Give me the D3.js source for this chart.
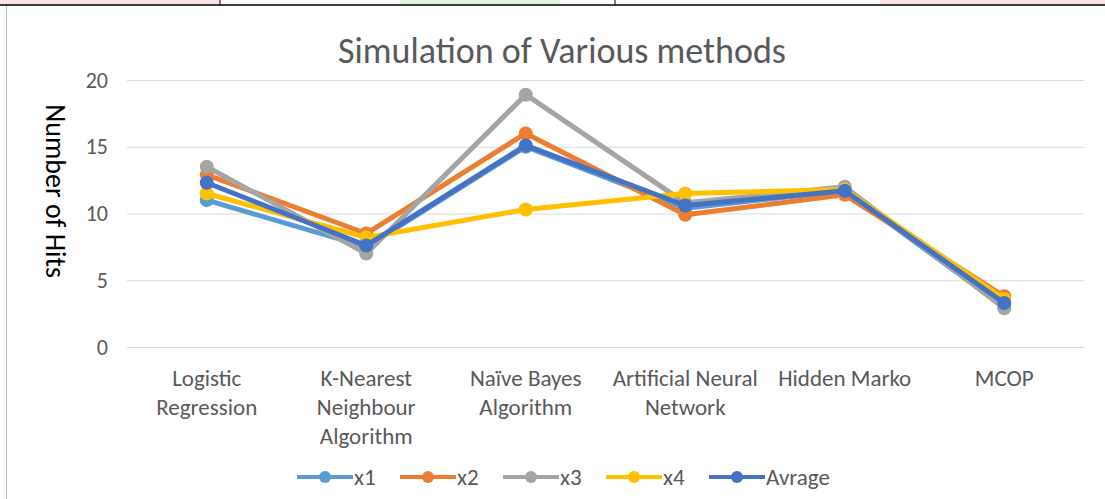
<!DOCTYPE html>
<head>
  <meta charset="utf-8">
  <title>Simulation of Various methods</title>
  <script src="https://cdn.jsdelivr.net/npm/d3@7"></script>
  <style>
    body { margin: 0; background: #fff; }
    svg text { font-family: Calibri, Carlito, "Open Sans", "Liberation Sans", sans-serif; }
  </style>
</head>
<body>
<svg width="1105" height="499"></svg>
<script>
var categories = [
  ["Logistic", "Regression"],
  ["K-Nearest", "Neighbour", "Algorithm"],
  ["Naïve Bayes", "Algorithm"],
  ["Artificial Neural", "Network"],
  ["Hidden Marko"],
  ["MCOP"]
]
var seriesNames = ["x1", "x2", "x3", "x4", "Avrage"]
var x1 = [11.0, 7.5, 15.0, 10.4, 11.7, 3.0]
var x2 = [12.9, 8.5, 16.0, 9.9, 11.4, 3.8]
var x3 = [13.5, 7.0, 18.9, 10.8, 12.0, 2.9]
var x4 = [11.5, 8.2, 10.3, 11.5, 11.8, 3.6]
var avrage = [12.3, 7.6, 15.1, 10.6, 11.7, 3.3]
var colors = ["#5b9bd5", "#ed7d31", "#a5a5a5", "#ffc000", "#4472c4"]
var yTicks = [0, 5, 10, 15, 20]

var series = [x1, x2, x3, x4, avrage]

var svg = d3.select('svg')

// bits of the page above the chart
svg.append('rect').attr('x', 0).attr('y', 0).attr('width', 220).attr('height', 5).attr('fill', '#fbe3e3')
svg.append('rect').attr('x', 400).attr('y', 0).attr('width', 160).attr('height', 5).attr('fill', '#e6f2e0')
svg.append('rect').attr('x', 880).attr('y', 0).attr('width', 225).attr('height', 5).attr('fill', '#fbe3e3')
svg.append('line').attr('x1', 0).attr('x2', 1105).attr('y1', 5).attr('y2', 5).attr('stroke', '#000').attr('stroke-width', 1.5)
;[220, 615].forEach(function (vx) {
  svg.append('line').attr('x1', vx).attr('x2', vx).attr('y1', 0).attr('y2', 5).attr('stroke', '#000')
})
svg.append('line').attr('x1', 6.5).attr('x2', 6.5).attr('y1', 6).attr('y2', 499).attr('stroke', '#bfbfbf')

var x = d3.scaleBand().domain(d3.range(categories.length)).range([127, 1084])
var y = d3.scaleLinear().domain([0, 20]).range([347, 80])

// gridlines
svg.append('g').selectAll('line').data(yTicks).enter().append('line')
  .attr('x1', 127).attr('x2', 1084)
  .attr('y1', function (d) { return y(d) + .5 })
  .attr('y2', function (d) { return y(d) + .5 })
  .attr('stroke', '#d9d9d9').attr('stroke-width', 1)

var yAxis = svg.append('g').attr('transform', 'translate(108,0)')
  .call(d3.axisLeft(y).tickValues(yTicks).tickSize(0).tickPadding(0))
yAxis.select('.domain').remove()
yAxis.selectAll('text').attr('fill', '#595959').style('font-size', '22px')
  .style('font-family', 'Calibri, Carlito, "Open Sans", sans-serif')

// category labels
var cat = svg.append('g').selectAll('text').data(categories).enter().append('text')
  .attr('text-anchor', 'middle')
  .attr('fill', '#595959')
  .style('font-size', '23px')
cat.selectAll('tspan').data(function (d, i) { return d.map(function (t) { return { t: t, i: i } }) })
  .enter().append('tspan')
  .attr('x', function (d) { return x(d.i) + x.bandwidth() / 2 })
  .attr('y', function (d, j) { return 386 + j * 29 })
  .text(function (d) { return d.t })

// title
svg.append('text').attr('x', 562).attr('y', 63).attr('text-anchor', 'middle')
  .attr('fill', '#595959').style('font-size', '36px')
  .text('Simulation of Various methods')

svg.append('text')
  .attr('transform', 'translate(46,191) rotate(90)')
  .attr('text-anchor', 'middle')
  .attr('fill', '#000').style('font-size', '28px')
  .text('Number of Hits')

var line = d3.line()
  .x(function (d, i) { return x(i) + x.bandwidth() / 2 })
  .y(function (d) { return y(d) })

series.forEach(function (s, k) {
  var g = svg.append('g')
  g.append('path').datum(s).attr('d', line)
    .attr('fill', 'none').attr('stroke', colors[k]).attr('stroke-width', 5)
    .attr('stroke-linejoin', 'round').attr('stroke-linecap', 'round')
  g.selectAll('circle').data(s).enter().append('circle')
    .attr('cx', function (d, i) { return x(i) + x.bandwidth() / 2 })
    .attr('cy', function (d) { return y(d) })
    .attr('r', 7)
    .attr('fill', colors[k])
})

// legend
var lg = svg.append('g').selectAll('g').data(seriesNames).enter().append('g')
  .attr('transform', function (d, i) { return 'translate(' + (297 + i * 103) + ',477)' })
lg.append('line').attr('x1', 0).attr('x2', 56).attr('y1', 0).attr('y2', 0)
  .attr('stroke', function (d, i) { return colors[i] }).attr('stroke-width', 4)
lg.append('circle').attr('cx', 28).attr('cy', 0).attr('r', 6)
  .attr('fill', function (d, i) { return colors[i] })
lg.append('text').attr('x', 57).attr('y', 8).attr('fill', '#595959')
  .style('font-size', '23px').text(function (d) { return d })
</script>
</body>
